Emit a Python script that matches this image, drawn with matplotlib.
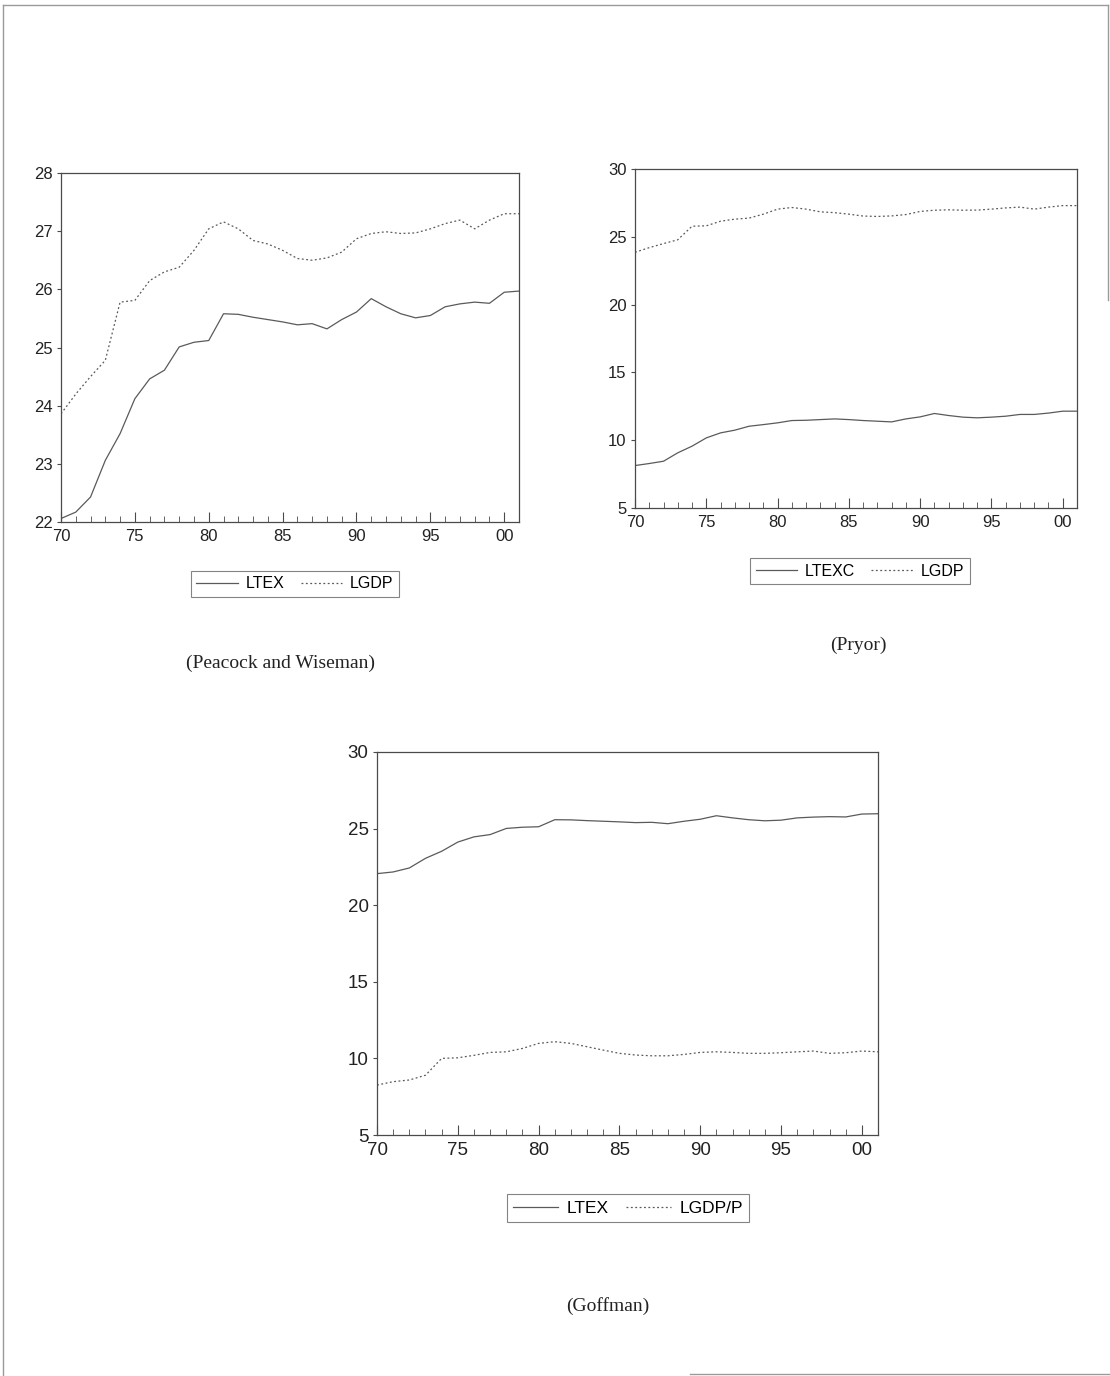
import numpy as np
import matplotlib
matplotlib.use('Agg')
import matplotlib.pyplot as plt
from matplotlib.lines import Line2D
from matplotlib.ticker import MultipleLocator, FixedLocator

# Annual series, 1970-2001 (log levels)
years = np.arange(1970, 2002)

ltex = [22.06, 22.17, 22.43, 23.06, 23.52, 24.12, 24.46, 24.61, 25.01, 25.09,
        25.12, 25.58, 25.57, 25.52, 25.48, 25.44, 25.39, 25.41, 25.32, 25.48,
        25.61, 25.84, 25.70, 25.58, 25.51, 25.55, 25.70, 25.75, 25.78, 25.76,
        25.95, 25.97]

lgdp = [23.86, 24.20, 24.50, 24.78, 25.78, 25.81, 26.15, 26.30, 26.38, 26.67,
        27.04, 27.16, 27.04, 26.84, 26.78, 26.67, 26.53, 26.50, 26.54, 26.64,
        26.87, 26.96, 26.99, 26.96, 26.97, 27.04, 27.13, 27.19, 27.04, 27.19,
        27.30, 27.30]

ltexc = [8.13, 8.28, 8.45, 9.07, 9.56, 10.17, 10.54, 10.74, 11.03, 11.15,
         11.28, 11.45, 11.47, 11.52, 11.57, 11.52, 11.45, 11.40, 11.35, 11.57,
         11.72, 11.97, 11.82, 11.70, 11.65, 11.70, 11.77, 11.90, 11.90, 12.00,
         12.14, 12.14]

lgdp_p = [8.26, 8.48, 8.59, 8.90, 10.00, 10.04, 10.20, 10.39, 10.43, 10.65,
          10.98, 11.09, 10.98, 10.76, 10.54, 10.33, 10.22, 10.17, 10.17, 10.26,
          10.39, 10.43, 10.39, 10.33, 10.33, 10.37, 10.43, 10.48, 10.33, 10.37,
          10.48, 10.43]

year_ticks = [1970, 1975, 1980, 1985, 1990, 1995, 2000]
year_labels = ['70', '75', '80', '85', '90', '95', '00']

W, H = 1110, 1376
fig = plt.figure(figsize=(W / 100, H / 100), dpi=100)
fig.patch.set_facecolor('white')

sans = ['Liberation Sans', 'DejaVu Sans']
serif = ['Liberation Serif', 'DejaVu Serif']
line_col = '#5a5a5a'
frame_col = '#4a4a4a'


def px_axes(left, top, right, bottom):
    # pixel box -> figure fraction axes
    return fig.add_axes([left / W, 1 - bottom / H, (right - left) / W, (bottom - top) / H])


def style_panel(ax, ylim, ystep, fsize):
    ax.set_xlim(1970, 2001)
    ax.set_ylim(*ylim)
    ax.xaxis.set_major_locator(FixedLocator(year_ticks))
    ax.set_xticklabels(year_labels)
    ax.xaxis.set_minor_locator(MultipleLocator(1))
    ax.yaxis.set_major_locator(MultipleLocator(ystep))
    ax.tick_params(axis='x', which='major', direction='in', length=7, width=0.8,
                   color=frame_col, labelsize=fsize, pad=5, top=False)
    ax.tick_params(axis='x', which='minor', direction='in', length=4, width=0.6,
                   color=frame_col, top=False)
    ax.tick_params(axis='y', which='major', direction='out', length=3, width=0.8,
                   color=frame_col, labelsize=fsize, pad=3)
    for lab in ax.get_xticklabels() + ax.get_yticklabels():
        lab.set_family(sans)
        lab.set_color('#222222')
    # lowest y label sits slightly above the axis corner
    ax.get_yticklabels()[0].set_verticalalignment('bottom')
    for sp in ax.spines.values():
        sp.set_color(frame_col)
        sp.set_linewidth(0.9)


def add_legend(ax, cx, cy, labels, fsize):
    leg = ax.legend(labels=labels, handles=ax.get_lines(), loc='center',
                    bbox_to_anchor=(cx / W, 1 - cy / H), bbox_transform=fig.transFigure,
                    ncol=2, frameon=True, fancybox=False, handlelength=2.6,
                    handletextpad=0.5, columnspacing=1.0, borderpad=0.35,
                    prop={'family': sans, 'size': fsize})
    leg.get_frame().set_edgecolor('#666666')
    leg.get_frame().set_linewidth(0.8)


# Peacock and Wiseman
ax1 = px_axes(61, 173, 519, 522)
ax1.plot(years, ltex, color=line_col, lw=0.9)
ax1.plot(years, lgdp, color=line_col, lw=0.9, linestyle=(0, (1.5, 2)))
style_panel(ax1, (22, 28), 1, 12)
add_legend(ax1, 295, 584, ['LTEX', 'LGDP'], 11.5)

# Pryor
ax2 = px_axes(635, 169, 1077, 508)
ax2.plot(years, ltexc, color=line_col, lw=0.9)
ax2.plot(years, lgdp, color=line_col, lw=0.9, linestyle=(0, (1.5, 2)))
style_panel(ax2, (5, 30), 5, 12)
add_legend(ax2, 860, 571, ['LTEXC', 'LGDP'], 11.5)

# Goffman
ax3 = px_axes(377, 752, 878, 1135)
ax3.plot(years, ltex, color=line_col, lw=0.9)
ax3.plot(years, lgdp_p, color=line_col, lw=0.9, linestyle=(0, (1.5, 2)))
style_panel(ax3, (5, 30), 5, 13.5)
add_legend(ax3, 628, 1208, ['LTEX', 'LGDP/P'], 12.5)

# captions under each panel
fig.text(281 / W, 1 - 663 / H, '(Peacock and Wiseman)', ha='center', va='center',
         family=serif, fontsize=14, color='#222222')
fig.text(858 / W, 1 - 645 / H, '(Pryor)', ha='center', va='center',
         family=serif, fontsize=14, color='#222222')
fig.text(608 / W, 1 - 1306 / H, '(Goffman)', ha='center', va='center',
         family=serif, fontsize=14, color='#222222')

# page border
border = dict(color='#9a9a9a', lw=1.0, transform=fig.transFigure)
fig.add_artist(Line2D([3 / W, 3 / W], [0, 1 - 5 / H], **border))
fig.add_artist(Line2D([3 / W, 1108 / W], [1 - 5 / H, 1 - 5 / H], **border))
fig.add_artist(Line2D([1108 / W, 1108 / W], [1 - 5 / H, 1 - 300 / H], **border))
fig.add_artist(Line2D([690 / W, 1 - 1 / W], [1 - 1374 / H, 1 - 1374 / H], **border))

fig.savefig('out.png', dpi=100, facecolor='white')
